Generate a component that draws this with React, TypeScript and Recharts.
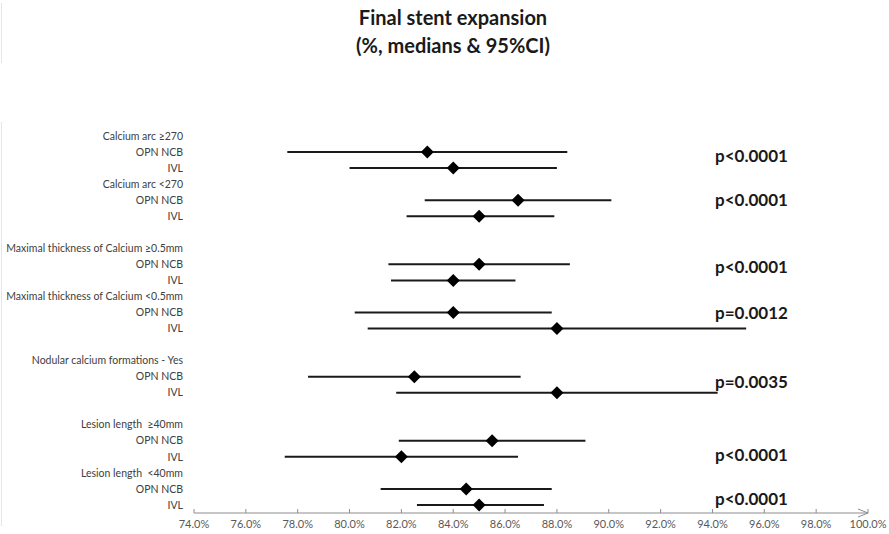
import React from 'react';
import { ScatterChart, Scatter, XAxis, YAxis, ErrorBar } from 'recharts';

// row labels, top to bottom (blank rows separate the groups)
const rowLabels = [
  'Calcium arc \u2265270', 'OPN NCB', 'IVL',
  'Calcium arc <270', 'OPN NCB', 'IVL',
  '',
  'Maximal thickness of Calcium \u22650.5mm', 'OPN NCB', 'IVL',
  'Maximal thickness of Calcium <0.5mm', 'OPN NCB', 'IVL',
  '',
  'Nodular calcium formations - Yes', 'OPN NCB', 'IVL',
  '',
  'Lesion length  \u226540mm', 'OPN NCB', 'IVL',
  'Lesion length  <40mm', 'OPN NCB', 'IVL',
];

// rows that carry an estimate
const dataRows = [1, 2, 4, 5, 8, 9, 11, 12, 15, 16, 19, 20, 22, 23];
const medians = [83.0, 84.0, 86.5, 85.0, 85.0, 84.0, 84.0, 88.0, 82.5, 88.0, 85.5, 82.0, 84.5, 85.0];
const ciLow = [77.6, 80.0, 82.9, 82.2, 81.5, 81.6, 80.2, 80.7, 78.4, 81.8, 81.9, 77.5, 81.2, 82.6];
const ciHigh = [88.4, 88.0, 90.1, 87.9, 88.5, 86.4, 87.8, 95.3, 86.6, 94.2, 89.1, 86.5, 87.8, 87.5];

// p-value annotations (row position on the category scale)
const pTexts = ['p<0.0001', 'p<0.0001', 'p<0.0001', 'p=0.0012', 'p=0.0035', 'p<0.0001', 'p<0.0001'];
const pRows = [1.25, 3.99, 8.15, 11.05, 15.32, 19.9, 22.6];
const pX = 94.1;

const xTicks = [74, 76, 78, 80, 82, 84, 86, 88, 90, 92, 94, 96, 98, 100];

const points = dataRows.map((row, i) => ({
  row,
  x: medians[i],
  ci: [medians[i] - ciLow[i], ciHigh[i] - medians[i]],
}));

const pData = pTexts.map((text, i) => ({ row: pRows[i], x: pX, text }));

const Diamond = (props: any) => {
  const { cx, cy } = props;
  const r = 6.5;
  return (
    <polygon
      points={`${cx},${cy - r} ${cx + r},${cy} ${cx},${cy + r} ${cx - r},${cy}`}
      fill="#000"
    />
  );
};

const PLabel = (props: any) => {
  const { cx, cy, payload } = props;
  return (
    <text x={cx} y={cy} dy="0.35em" textAnchor="start" fontSize={17} fontWeight={700} fill="#1a1a1a" fontFamily="Lato">
      {payload.text}
    </text>
  );
};

const XTick = (props: any) => {
  const { x, y, payload } = props;
  const v = payload.value;
  return (
    <g>
      <line x1={x} x2={x} y1={y - 4} y2={y} stroke="#8c8c8c" />
      <text x={x} y={y + 15} textAnchor="middle" fontSize={11} fill="#595959" fontFamily="Lato">
        {v.toFixed(1)}%
      </text>
      {v === 100 && (
        <polyline points={`${x - 10},${y - 4} ${x},${y} ${x - 10},${y + 4}`} fill="none" stroke="#8c8c8c" />
      )}
    </g>
  );
};

const YTick = (props: any) => {
  const { x, y, payload } = props;
  return (
    <text x={x} y={y} dy="0.35em" textAnchor="end" fontSize={10.5} fill="#404040" fontFamily="Lato" style={{ whiteSpace: 'pre' }}>
      {rowLabels[payload.value] ?? ''}
    </text>
  );
};

export default function App() {
  return (
    <div style={{ position: 'absolute', left: 0, top: 0, width: 889, height: 534, background: '#fff', fontFamily: 'Lato' }}>
      <div style={{ position: 'absolute', left: 1, top: 3, width: 1, height: 60, background: '#e6e6e6' }} />
      <div style={{ position: 'absolute', left: 1, top: 122, width: 1, height: 404, background: '#e6e6e6' }} />
      <div style={{ position: 'absolute', left: 303, top: 3, width: 300, textAlign: 'center', fontSize: 20, lineHeight: '28px', fontWeight: 700, color: '#1a1a1a' }}>
        Final stent expansion
        <br />
        (%, medians &amp; 95%CI)
      </div>
      <ScatterChart width={889} height={534} margin={{ top: 128, right: 21, bottom: 0, left: 0 }} style={{ position: 'absolute', left: 0, top: 0 }}>
        <XAxis
          type="number"
          dataKey="x"
          domain={[74, 100]}
          ticks={xTicks}
          height={21}
          tickSize={0}
          tickMargin={0}
          tickLine={false}
          stroke="#8c8c8c"
          tick={<XTick />}
          interval={0}
        />
        <YAxis
          type="number"
          dataKey="row"
          domain={[-0.5, 23.5]}
          reversed
          ticks={rowLabels.map((_, i) => i)}
          interval={0}
          width={194}
          axisLine={false}
          tickLine={false}
          tickSize={0}
          tickMargin={11}
          tick={<YTick />}
        />
        <Scatter data={points} shape={<Diamond />} isAnimationActive={false}>
          <ErrorBar dataKey="ci" direction="x" width={0} stroke="#1a1a1a" strokeWidth={2} />
        </Scatter>
        <Scatter data={pData} shape={<PLabel />} isAnimationActive={false} />
      </ScatterChart>
    </div>
  );
}
